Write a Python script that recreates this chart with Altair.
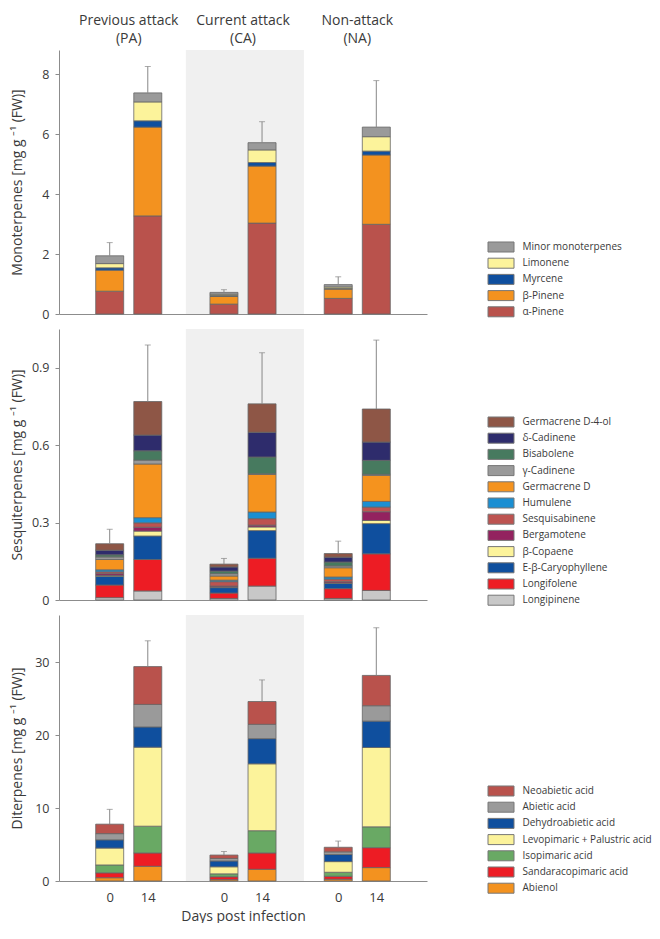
import altair as alt
import pandas as pd

# ---------------- data ----------------
group_names = ["Previous attack", "Current attack", "Non-attack"]
group_abbr = ["PA", "CA", "NA"]
day_labels = ["0", "14"]
# bar order: PA-0, PA-14, CA-0, CA-14, NA-0, NA-14

# Monoterpenes (bottom -> top)
mono_compounds = ["α-Pinene", "β-Pinene", "Myrcene", "Limonene", "Minor monoterpenes"]
mono_colors = ["#b9524c", "#f3921f", "#0f4f9e", "#fcf39b", "#9a9a9a"]
mono_alpha_pinene = [0.76, 3.27, 0.33, 3.03, 0.52, 2.99]
mono_beta_pinene = [0.70, 2.96, 0.26, 1.90, 0.31, 2.31]
mono_myrcene = [0.08, 0.21, 0.03, 0.12, 0.02, 0.13]
mono_limonene = [0.14, 0.63, 0.04, 0.42, 0.05, 0.48]
mono_minor = [0.26, 0.30, 0.06, 0.24, 0.08, 0.32]
mono_err_top = [2.38, 8.25, 0.81, 6.41, 1.24, 7.78]

# Sesquiterpenes (bottom -> top)
sesq_compounds = ["Longipinene", "Longifolene", "E-β-Caryophyllene", "β-Copaene",
                  "Bergamotene", "Sesquisabinene", "Humulene", "Germacrene D",
                  "γ-Cadinene", "Bisabolene", "δ-Cadinene", "Germacrene D-4-ol"]
sesq_colors = ["#c8c8c8", "#ed1c24", "#0f4f9e", "#fcf39b", "#93225f", "#bd5350",
               "#1b8fd2", "#f5931e", "#9a9a9a", "#477a5f", "#2e2c6c", "#8e5646"]
sesq_longipinene = [0.009, 0.035, 0.006, 0.054, 0.006, 0.037]
sesq_longifolene = [0.049, 0.122, 0.021, 0.108, 0.038, 0.142]
sesq_caryophyllene = [0.033, 0.091, 0.021, 0.107, 0.020, 0.117]
sesq_copaene = [0.004, 0.019, 0.002, 0.014, 0.002, 0.012]
sesq_bergamotene = [0.007, 0.015, 0.004, 0.007, 0.005, 0.034]
sesq_sesquisabinene = [0.007, 0.017, 0.017, 0.025, 0.010, 0.018]
sesq_humulene = [0.008, 0.020, 0.006, 0.026, 0.008, 0.022]
sesq_germacrene_d = [0.040, 0.208, 0.016, 0.146, 0.036, 0.101]
sesq_g_cadinene = [0.010, 0.015, 0.009, 0.002, 0.007, 0.004]
sesq_bisabolene = [0.008, 0.036, 0.010, 0.065, 0.015, 0.054]
sesq_d_cadinene = [0.018, 0.061, 0.016, 0.096, 0.019, 0.071]
sesq_germacrene_d4ol = [0.025, 0.130, 0.011, 0.110, 0.014, 0.128]
sesq_err_top = [0.274, 0.988, 0.161, 0.958, 0.228, 1.007]

# Diterpenes (bottom -> top)
dite_compounds = ["Abienol", "Sandaracopimaric acid", "Isopimaric acid",
                  "Levopimaric + Palustric acid", "Dehydroabietic acid",
                  "Abietic acid", "Neoabietic acid"]
dite_colors = ["#f3921f", "#ed1c24", "#69a964", "#fcf39b", "#0f4f9e", "#9a9a9a", "#b9524c"]
dite_abienol = [0.45, 2.02, 0.18, 1.61, 0.25, 1.84]
dite_sandaracopimaric = [0.67, 1.83, 0.40, 2.24, 0.40, 2.73]
dite_isopimaric = [1.08, 3.67, 0.40, 3.05, 0.55, 2.86]
dite_levopimaric = [2.32, 10.84, 0.97, 9.18, 1.46, 10.89]
dite_dehydroabietic = [1.13, 2.78, 0.80, 3.45, 0.97, 3.62]
dite_abietic = [0.85, 3.09, 0.35, 1.97, 0.37, 2.11]
dite_neoabietic = [1.30, 5.19, 0.46, 3.13, 0.63, 4.16]
dite_err_top = [9.83, 32.96, 4.05, 27.59, 5.48, 34.75]

# ---------------- helpers ----------------
FONT = "Open Sans"
TXT = "#3a3a3a"
AXC = "#8c8c8c"
W = 368


def slot_of(i):
    return (i // 2) * 3 + (i % 2)


def build(compounds, series):
    rows = []
    for j, (c, vals) in enumerate(zip(compounds, series)):
        for i, v in enumerate(vals):
            rows.append({"slot": slot_of(i), "compound": c, "value": v, "order": j})
    return pd.DataFrame(rows)


def build_err(series, err_top):
    rows = []
    for i in range(len(err_top)):
        total = sum(s[i] for s in series)
        rows.append({"slot": slot_of(i), "total": total, "err": err_top[i]})
    return pd.DataFrame(rows)


band_df = pd.DataFrame({"start": [slot_of(2) - 1.0], "end": [slot_of(3) + 1.1]})
title_df = pd.DataFrame({
    "x": [g * 3 + 0.5 for g in range(3)],
    "name": group_names,
    "abbr": [f"({a})" for a in group_abbr],
})


def panel(compounds, colors, series, err_top, ymax, tick_vals, label_expr, ytitle,
          height, legend_y, bottom=False, top=False):
    df = build(compounds, series)
    edf = build_err(series, err_top)
    if bottom:
        xaxis = alt.Axis(values=[slot_of(i) for i in range(6)],
                         labelExpr="datum.value % 3 == 0 ? '0' : '14'",
                         ticks=False, grid=False, domainColor=AXC, labelFont=FONT,
                         labelFontSize=13, labelColor=TXT, labelPadding=10,
                         title="Days post infection", titleFont=FONT, titleFontSize=14,
                         titleFontWeight="normal", titleColor=TXT, titlePadding=5)
    else:
        xaxis = alt.Axis(labels=False, ticks=False, grid=False, title=None, domainColor=AXC)
    xscale = alt.Scale(domain=[-1.2, 8.2], nice=False, zero=False)
    yscale = alt.Scale(domain=[0, ymax], nice=False, zero=True)
    yaxis = alt.Axis(values=tick_vals, labelExpr=label_expr, title=ytitle, grid=False,
                     domainColor=AXC, tickColor=AXC, tickSize=4, labelPadding=6,
                     labelFont=FONT, labelFontSize=12.5, labelColor=TXT,
                     titleFont=FONT, titleFontSize=14, titleFontWeight="normal",
                     titleColor=TXT, titleX=-35)

    band = alt.Chart(band_df).mark_rect(color="#f0f0f0").encode(
        x=alt.X("start:Q", scale=xscale, axis=xaxis),
        x2="end:Q",
        y=alt.value(0),
        y2=alt.value(height),
    )
    legend = alt.Legend(title=None, orient="none", legendX=435, legendY=legend_y,
                        symbolType="M-2,-0.77H2V0.77H-2Z", symbolSize=169,
                        symbolStrokeColor="#777777", symbolStrokeWidth=1,
                        labelFont=FONT, labelFontSize=10, labelColor=TXT,
                        labelOffset=14.5, rowPadding=0.2, padding=0)
    bars = alt.Chart(df).mark_bar(size=28, stroke="#666666", strokeWidth=0.8).encode(
        x=alt.X("slot:Q", scale=xscale, axis=xaxis),
        y=alt.Y("value:Q", stack="zero", scale=yscale, axis=yaxis),
        color=alt.Color("compound:N", scale=alt.Scale(domain=compounds[::-1], range=colors[::-1]),
                        legend=legend),
        order=alt.Order("order:Q", sort="ascending"),
    )
    rule = alt.Chart(edf).mark_rule(color="#888888", strokeWidth=1).encode(
        x=alt.X("slot:Q", scale=xscale),
        y=alt.Y("total:Q", scale=yscale),
        y2="err:Q",
    )
    cap = alt.Chart(edf).mark_tick(orient="horizontal", size=6, thickness=1, color="#888888").encode(
        x=alt.X("slot:Q", scale=xscale),
        y=alt.Y("err:Q", scale=yscale),
    )
    layers = [band, bars, rule, cap]
    if top:
        base = alt.Chart(title_df).mark_text(baseline="middle", align="center",
                                             font=FONT, fontSize=14, color=TXT)
        t1 = base.encode(x=alt.X("x:Q", scale=xscale), y=alt.value(-29), text="name:N")
        t2 = base.encode(x=alt.X("x:Q", scale=xscale), y=alt.value(-11), text="abbr:N")
        layers += [t1, t2]
    return alt.layer(*layers).properties(width=W, height=height)


p1 = panel(mono_compounds, mono_colors,
           [mono_alpha_pinene, mono_beta_pinene, mono_myrcene, mono_limonene, mono_minor],
           mono_err_top, 8.8, list(range(0, 9)),
           "datum.value % 2 == 0 ? datum.label : ''",
           "Monoterpenes [mg g ⁻¹ (FW)]", 264, 190, top=True)
p2 = panel(sesq_compounds, sesq_colors,
           [sesq_longipinene, sesq_longifolene, sesq_caryophyllene, sesq_copaene,
            sesq_bergamotene, sesq_sesquisabinene, sesq_humulene, sesq_germacrene_d,
            sesq_g_cadinene, sesq_bisabolene, sesq_d_cadinene, sesq_germacrene_d4ol],
           sesq_err_top, 1.05, [0, 0.15, 0.3, 0.45, 0.6, 0.75, 0.9, 1.05],
           "round(datum.value * 100) % 30 == 0 ? format(datum.value, '~g') : ''",
           "Sesquiterpenes [mg g ⁻¹ (FW)]", 271, 86)
p3 = panel(dite_compounds, dite_colors,
           [dite_abienol, dite_sandaracopimaric, dite_isopimaric, dite_levopimaric,
            dite_dehydroabietic, dite_abietic, dite_neoabietic],
           dite_err_top, 36.5, list(range(0, 36, 5)),
           "datum.value % 10 == 0 ? datum.label : ''",
           "Diterpenes [mg g ⁻¹ (FW)]", 266, 169, bottom=True)

chart = alt.vconcat(p1, p2, p3, spacing=15, bounds="flush").resolve_scale(
    color="independent", y="independent"
).properties(
    padding={"left": 1, "top": 6, "right": 0, "bottom": 0},
    background="white",
).configure_view(stroke=None)

chart.save("out.html", embed_options={"renderer": "svg", "actions": False})
